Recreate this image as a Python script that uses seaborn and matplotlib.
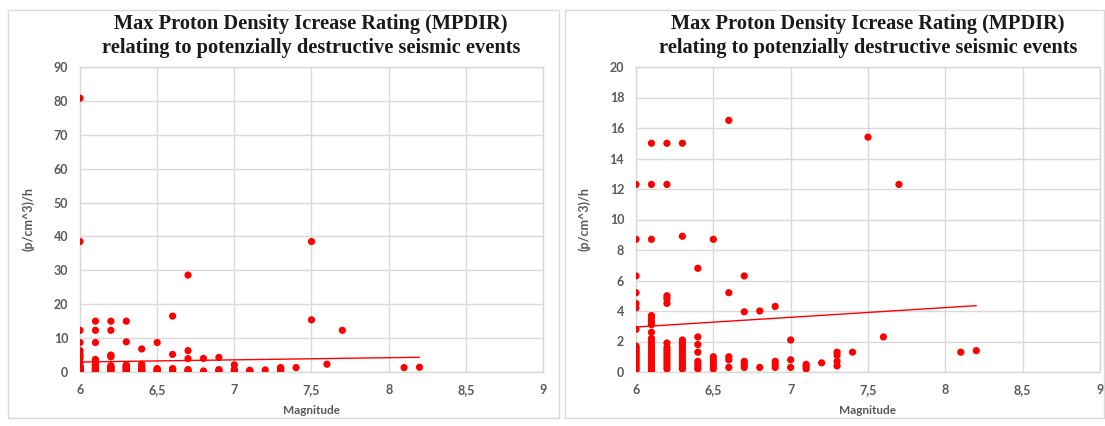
import matplotlib
matplotlib.use("Agg")
import matplotlib.pyplot as plt
from matplotlib.patches import Rectangle
import pandas as pd
import seaborn as sns

# ---- data ----
rate_60 = [80.8, 38.5, 12.3, 8.7, 6.3, 5.2, 4.5, 4.2, 2.8, 1.7, 1.6, 1.5, 1.4, 1.3,
           1.2, 1.1, 1.0, 0.9, 0.8, 0.7, 0.6, 0.5, 0.4, 0.3, 0.2, 0.1]
rate_61 = [15.0, 12.3, 8.7, 3.7, 3.5, 3.3, 3.1, 2.6, 2.2, 2.0, 1.8, 1.6, 1.4, 1.2,
           1.0, 0.8, 0.6, 0.4, 0.2, 0.1]
rate_62 = [15.0, 12.3, 5.0, 4.8, 4.5, 1.9, 1.6, 1.4, 1.2, 1.0, 0.8, 0.6, 0.4, 0.2]
rate_63 = [15.0, 8.9, 2.1, 1.9, 1.7, 1.5, 1.3, 1.1, 0.9, 0.7, 0.5, 0.3, 0.2]
rate_64 = [6.8, 2.3, 1.8, 1.3, 0.7, 0.5, 0.3, 0.2]
rate_65 = [8.7, 1.0, 0.8, 0.6, 0.4, 0.2]
rate_66 = [16.5, 5.2, 1.0, 0.8, 0.3]
rate_67 = [28.6, 6.3, 3.95, 0.7, 0.5, 0.3]
rate_68 = [4.0, 0.3]
rate_69 = [4.3, 0.7, 0.5, 0.3]
rate_70 = [2.1, 0.8, 0.3]
rate_71 = [0.5, 0.35, 0.2]
rate_72 = [0.6]
rate_73 = [1.3, 1.1, 0.7, 0.4]
rate_74 = [1.3]
rate_75 = [38.5, 15.4]
rate_76 = [2.3]
rate_77 = [12.3]
rate_81 = [1.3]
rate_82 = [1.4]

magnitudes = [6.0, 6.1, 6.2, 6.3, 6.4, 6.5, 6.6, 6.7, 6.8, 6.9, 7.0, 7.1, 7.2,
              7.3, 7.4, 7.5, 7.6, 7.7, 8.1, 8.2]
rates = [rate_60, rate_61, rate_62, rate_63, rate_64, rate_65, rate_66, rate_67,
         rate_68, rate_69, rate_70, rate_71, rate_72, rate_73, rate_74, rate_75,
         rate_76, rate_77, rate_81, rate_82]

trend_mag = [6.0, 8.2]
trend_rate = [2.95, 4.35]

x_ticks = [6, 6.5, 7, 7.5, 8, 8.5, 9]
x_tick_labels = ["6", "6,5", "7", "7,5", "8", "8,5", "9"]
title_lines = ["Max Proton Density Icrease Rating (MPDIR)",
               "relating to potenzially destructive seismic events"]

rows = [(m, r) for m, lst in zip(magnitudes, rates) for r in lst]
df = pd.DataFrame(rows, columns=["Magnitude", "Rate"])
trend_df = pd.DataFrame({"Magnitude": trend_mag, "Rate": trend_rate})

# ---- style ----
sns.set_theme(style="white")
plt.rcParams["font.family"] = ["Lato", "DejaVu Sans"]

W, H = 1105, 426
fig = plt.figure(figsize=(W / 100, H / 100), dpi=100)

GRID = "#d9d9d9"
TXT = "#595959"


def axes_px(x0, x1, y0, y1):
    return fig.add_axes([x0 / W, 1 - y1 / H, (x1 - x0) / W, (y1 - y0) / H])


def panel(x0, x1, y0, y1):
    fig.patches.append(Rectangle((x0 / W, 1 - y1 / H), (x1 - x0) / W, (y1 - y0) / H,
                                 transform=fig.transFigure, fill=False,
                                 edgecolor=GRID, lw=1.0))


def draw(ax, ymax, ystep, title_cx):
    sns.scatterplot(data=df, x="Magnitude", y="Rate", color="#ff0000", s=27,
                    edgecolor="none", ax=ax, zorder=3)
    sns.lineplot(data=trend_df, x="Magnitude", y="Rate", color="#ff0000", lw=1.0,
                 ax=ax, zorder=2)
    ax.set_xlim(6, 9)
    ax.set_ylim(0, ymax)
    ax.set_xticks(x_ticks)
    ax.set_xticklabels(x_tick_labels)
    ax.set_yticks(list(range(0, ymax + 1, ystep)))
    ax.grid(True, color=GRID, lw=1.0)
    ax.set_axisbelow(True)
    for s in ax.spines.values():
        s.set_color(GRID)
        s.set_linewidth(1.0)
    ax.tick_params(axis="both", length=0, labelsize=9, labelcolor=TXT)
    ax.tick_params(axis="y", pad=8.5)
    ax.tick_params(axis="x", pad=9)
    for lab in ax.get_xticklabels() + ax.get_yticklabels():
        lab.set_fontweight("bold")
    ax.set_xlabel("Magnitude", fontsize=8.5, fontweight="bold", color=TXT, va="center")
    ax.xaxis.set_label_coords(0.5, -0.125)
    ax.set_ylabel("(p/cm^3)/h", fontsize=9, fontweight="bold", color=TXT, va="center")
    ax.yaxis.set_label_coords(-0.112, 0.5)
    fig.text(title_cx / W, 1 - 24 / H, title_lines[0], ha="center", va="center",
             family="Liberation Serif", fontweight="bold", fontsize=14.7, color="#1a1a1a")
    fig.text(title_cx / W, 1 - 48 / H, title_lines[1], ha="center", va="center",
             family="Liberation Serif", fontweight="bold", fontsize=14.7, color="#1a1a1a")


panel(8, 559, 10, 418)
panel(565, 1104, 10, 418)

ax1 = axes_px(80, 543, 67, 372)
draw(ax1, 90, 10, 311)
ax2 = axes_px(636, 1100, 67, 372)
draw(ax2, 20, 2, 868)

fig.savefig("out.png", dpi=100)
